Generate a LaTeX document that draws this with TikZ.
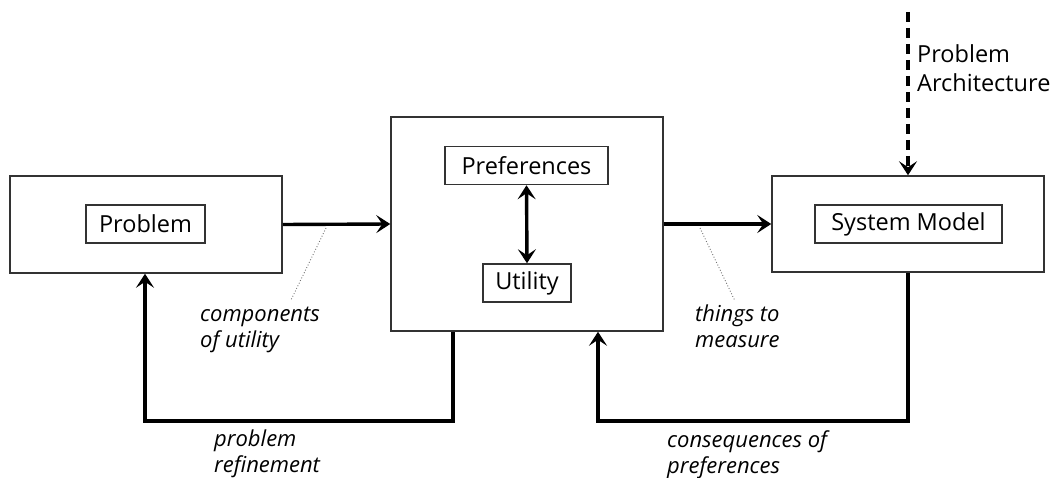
\documentclass[tikz,border=0pt]{standalone}
\usepackage{fontspec}
\setmainfont{Open Sans}
\usetikzlibrary{arrows.meta}
\begin{document}
\begin{tikzpicture}[x=1pt,y=-1pt,
  outerbox/.style={draw=black!80,line width=1.5pt,minimum width=272pt,inner sep=0pt},
  innerbox/.style={draw=black!80,line width=1.5pt,minimum height=38pt,inner sep=0pt,font=\fontsize{23.5}{28}\selectfont},
  flow/.style={line width=3.4pt,-{Stealth[length=14pt,width=18pt,inset=6pt]}},
  biflow/.style={line width=3.4pt,{Stealth[length=14pt,width=18pt,inset=6pt]}-{Stealth[length=14pt,width=18pt,inset=6pt]}},
  dflow/.style={line width=3.4pt,dash pattern=on 10pt off 6pt,-{Stealth[length=14pt,width=18pt,inset=6pt]}},
  leader/.style={draw=black!55,line width=0.9pt,dotted},
  lbl/.style={align=left,inner sep=0pt,anchor=base west,font=\fontsize{22}{25.5}\selectfont\itshape},
]
\useasboundingbox (0,0) rectangle (1056,478);
% boxes
\node[outerbox,minimum height=97pt] (left) at (146,224.5) {};
\node[outerbox,minimum height=214pt] (mid) at (527,224) {};
\node[outerbox,minimum height=96pt] (right) at (908,224) {};
\node[innerbox,minimum width=119pt] (prob) at (145.5,224) {Problem};
\node[innerbox,minimum width=163pt] (pref) at (526.5,165.5) {Preferences};
\node[innerbox,minimum width=88pt] (util) at (527,283) {Utility};
\node[innerbox,minimum width=187pt] (sysm) at (908.5,224) {System Model};
% connectors
\draw[flow] (left.east) -- (mid.west);
\draw[flow] (mid.east) -- (right.west);
\draw[biflow] (pref.south) -- (util.north);
\coordinate (top) at (908,12);
\draw[dflow] (top) -- (right.north);
\coordinate (r1) at (598,421);
\draw[flow] (right.south) |- (r1) -- (r1 |- mid.south);
\coordinate (m1) at ([xshift=-74pt]mid.south);
\coordinate (r2) at (145,421);
\draw[flow] (m1) |- (r2) -- (r2 |- left.south);
% labels
\node[align=left,inner sep=0pt,anchor=base west,font=\fontsize{23.5}{29}\selectfont] (arch) at (917,92) {Problem\\Architecture};
\node[lbl] (l1) at (200,347) {components\\of utility};
\node[lbl] (l2) at (214,472) {problem\\refinement};
\node[lbl] (l3) at (695,347) {things to\\measure};
\node[lbl] (l4) at (667,473) {consequences of\\preferences};
% leaders
\coordinate (a1) at (326,228);
\coordinate (b1) at (291,300);
\draw[leader] (a1) -- (b1);
\coordinate (a2) at (700,228);
\coordinate (b2) at (735,301);
\draw[leader] (a2) -- (b2);
\end{tikzpicture}
\end{document}
